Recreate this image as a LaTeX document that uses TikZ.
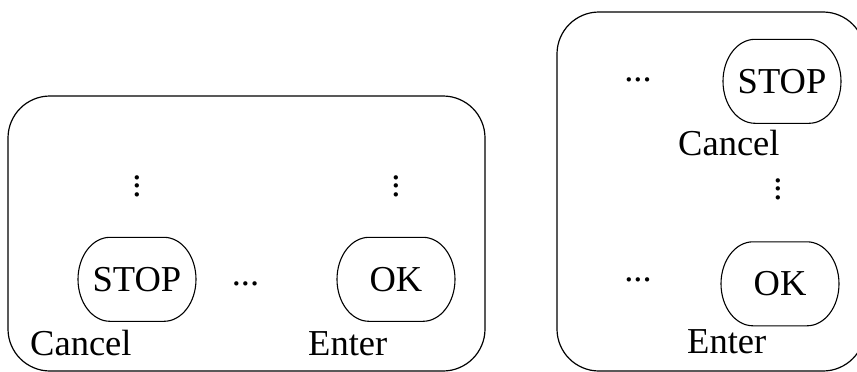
\documentclass[tikz,border=0pt]{standalone}
\usepackage{fontspec}
\usetikzlibrary{calc}
\setmainfont{Liberation Serif}
\newcommand\stackdots{\vbox{\baselineskip=8.5pt\lineskiplimit=-100pt\hbox{.}\hbox{.}\hbox{.}}}
\begin{document}
\begin{tikzpicture}[x=1pt,y=-1pt,
  panel/.style={draw,line width=1.2pt,rounded corners=42pt},
  btn/.style={minimum width=118pt,minimum height=84pt,inner sep=0pt},
  keyline/.style={draw,line width=1.1pt},
  lbl/.style={inner sep=0pt},
  every node/.style={font=\fontsize{36.5}{40}\selectfont}]
\useasboundingbox (0,0) rectangle (857,372);

% left panel: keys in one row
\draw[panel] (8,96) rectangle (485,371);
\node[btn] (stopA) at (137,279.5) {STOP};
\node[btn] (okA) at (396,279.5) {OK};
\node[lbl,anchor=base west] (cancelA) at (30,355) {Cancel};
\node[lbl,anchor=base west] (enterA) at (308,355) {Enter};
\node[lbl,anchor=base] (hdotsA) at (245.5,285.5) {...};
\node[lbl] (vdotsA) at (137,186) {\stackdots};
\node[lbl] (vdotsB) at (396,186) {\stackdots};

% right panel: keys in one column
\draw[panel] (557,12) rectangle (865,371);
\node[btn] (stopB) at (782,81.5) {STOP};
\node[btn] (okB) at (780,284) {OK};
\node[lbl,anchor=base west] (cancelB) at (678,155) {Cancel};
\node[lbl,anchor=base west] (enterB) at (687,353) {Enter};
\node[lbl,anchor=base] (hdotsB) at (638,81.5) {...};
\node[lbl,anchor=base] (hdotsC) at (638,281.5) {...};
\node[lbl] (vdotsC) at (778,189) {\stackdots};

% key outlines: flat top and bottom with elliptical ends
\foreach \k in {stopA,okA,stopB,okB}
  \draw[keyline] ($(\k.north)+(27,0)$)
    arc[start angle=-90,end angle=90,x radius=32,y radius=42]
    -- ++(-54,0)
    arc[start angle=90,end angle=270,x radius=32,y radius=42]
    -- cycle;
\end{tikzpicture}
\end{document}
